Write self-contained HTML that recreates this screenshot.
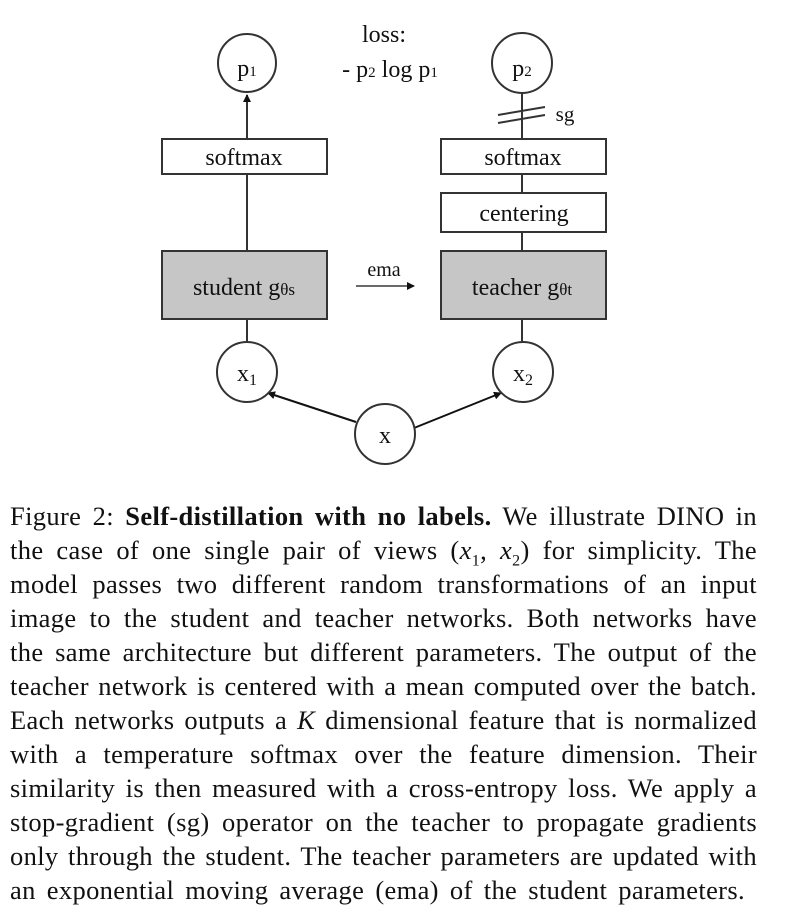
<!DOCTYPE html>
<html><head><style>
body{margin:0;background:#fff;width:790px;height:920px;overflow:hidden;position:relative;font-family:"Liberation Serif",serif;}
svg{position:absolute;left:0;top:0}
.cap{position:absolute;left:10px;width:747px;font-size:26.5px;letter-spacing:0.35px;color:#111;text-align:justify;text-align-last:justify;white-space:nowrap;line-height:34px}
</style></head><body>
<svg width="790" height="480" viewBox="0 0 790 480" font-family="Liberation Serif, serif" fill="none" stroke="#333" stroke-width="2">
<defs><marker id="a" markerWidth="8" markerHeight="8" refX="7" refY="4" orient="auto" markerUnits="userSpaceOnUse"><path d="M0,0 L8,4 L0,8 z" fill="#111" stroke="none"/></marker></defs>
<line x1="247" y1="139" x2="247" y2="95" marker-end="url(#a)"/>
<line x1="247" y1="174" x2="247" y2="251"/>
<line x1="247" y1="319" x2="247" y2="342"/>
<line x1="522" y1="93" x2="522" y2="139"/>
<line x1="522" y1="174" x2="522" y2="193"/>
<line x1="522" y1="232" x2="522" y2="251"/>
<line x1="522" y1="319" x2="522" y2="342"/>
<line x1="498" y1="115" x2="545" y2="107"/>
<line x1="498" y1="123" x2="545" y2="115"/>
<line x1="356" y1="422" x2="268" y2="393" stroke="#111" marker-end="url(#a)"/>
<line x1="414" y1="428" x2="501" y2="393" stroke="#111" marker-end="url(#a)"/>
<line x1="356" y1="286" x2="414" y2="286" stroke="#111" stroke-width="1.3" marker-end="url(#a)"/>
<circle cx="247" cy="63" r="29"/><circle cx="522" cy="63" r="30"/>
<circle cx="247" cy="372" r="30"/><circle cx="523" cy="372" r="30"/><circle cx="385" cy="434" r="30"/>
<rect x="162" y="139" width="165" height="35"/><rect x="441" y="139" width="165" height="35"/>
<rect x="441" y="193" width="165" height="39"/>
<rect x="162" y="251" width="165" height="68" fill="#c6c6c6"/><rect x="441" y="251" width="165" height="68" fill="#c6c6c6"/>
<g fill="#111" stroke="none" font-size="24" text-anchor="middle">
<text x="247" y="76">p<tspan font-size="15">1</tspan></text>
<text x="522" y="76">p<tspan font-size="15">2</tspan></text>
<text x="384" y="42">loss:</text>
<text x="390" y="77">- p<tspan font-size="15">2</tspan> log p<tspan font-size="15">1</tspan></text>
<text x="565" y="121" font-size="21">sg</text>
<text x="244" y="165">softmax</text><text x="523" y="165">softmax</text>
<text x="524" y="221">centering</text>
<text x="384" y="276" font-size="20">ema</text>
<text x="244" y="295">student g<tspan font-size="17">θs</tspan></text>
<text x="522" y="295">teacher g<tspan font-size="17">θt</tspan></text>
<text x="247" y="381">x<tspan font-size="16" dy="4">1</tspan></text>
<text x="523" y="381">x<tspan font-size="16" dy="4">2</tspan></text>
<text x="385" y="443">x</text>
</g>
</svg>
<div class="cap" style="top:499px">Figure 2: <b>Self-distillation with no labels.</b> We illustrate DINO in</div>
<div class="cap" style="top:533px">the case of one single pair of views (<i>x</i><sub style="font-size:16px">1</sub>, <i>x</i><sub style="font-size:16px">2</sub>) for simplicity. The</div>
<div class="cap" style="top:567px">model passes two different random transformations of an input</div>
<div class="cap" style="top:601px">image to the student and teacher networks. Both networks have</div>
<div class="cap" style="top:635px">the same architecture but different parameters. The output of the</div>
<div class="cap" style="top:669px">teacher network is centered with a mean computed over the batch.</div>
<div class="cap" style="top:703px">Each networks outputs a <i>K</i> dimensional feature that is normalized</div>
<div class="cap" style="top:737px">with a temperature softmax over the feature dimension. Their</div>
<div class="cap" style="top:771px">similarity is then measured with a cross-entropy loss. We apply a</div>
<div class="cap" style="top:805px">stop-gradient (sg) operator on the teacher to propagate gradients</div>
<div class="cap" style="top:839px">only through the student. The teacher parameters are updated with</div>
<div class="cap" style="top:873px;width:735px">an exponential moving average (ema) of the student parameters.</div>
</body></html>
